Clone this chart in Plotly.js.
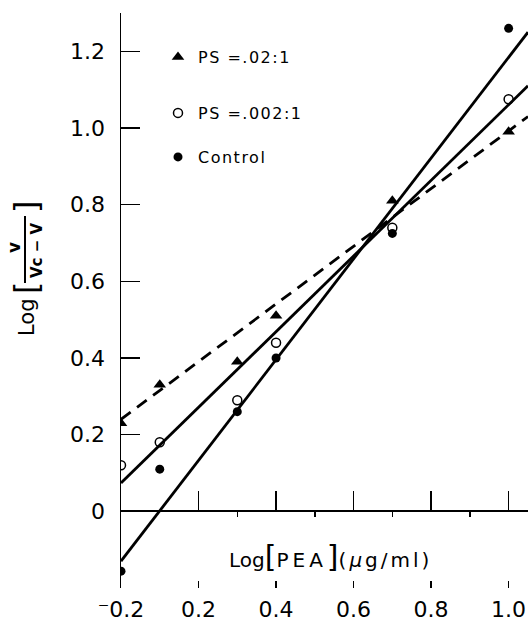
<!DOCTYPE html>
<html><head><meta charset="utf-8">
<script src="https://cdn.plot.ly/plotly-3.0.1.min.js"></script>
<style>html,body{margin:0;padding:0;background:#fff}</style>
</head><body><div id="chart" style="width:528px;height:623px"></div>
<script>
// Plotted x positions (the leftmost point is drawn at the axis origin, labelled ⁻0.2)
const logPEA = [0, 0.1, 0.3, 0.4, 0.7, 1.0];
const psHigh = [0.23, 0.33, 0.39, 0.51, 0.81, 0.99];     // PS = .02:1
const psLow = [0.12, 0.18, 0.29, 0.44, 0.74, 1.075];      // PS = .002:1
const control = [-0.156, 0.11, 0.26, 0.40, 0.725, 1.26];  // Control
const fitX = [0, 1.05];
const psHighFit = [0.24, 1.03];
const psLowFit = [0.074, 1.11];
const controlFit = [-0.13, 1.25];
const xTickVals = [0, 0.2, 0.4, 0.6, 0.8, 1.0];
const xTickText = ['\u207B0.2', '0.2', '0.4', '0.6', '0.8', '1.0'];
const xMajor = [0.2, 0.4, 0.6, 0.8, 1.0];
const xMinor = [0.3, 0.5, 0.7, 0.9];
const yTickVals = [0, 0.2, 0.4, 0.6, 0.8, 1.0, 1.2];
const yTickText = ['0', '0.2', '0.4', '0.6', '0.8', '1.0', '1.2'];
const seriesNames = ['PS =.02:1', 'PS =.002:1', 'Control'];

const FONT = 'DejaVu Sans, sans-serif';
const L = 121, T = 13, W = 407, H = 575;
const px2x = p => (p - L) / W;
const py2y = p => 1 - (p - T) / H;
const spaced = s => '<span style="letter-spacing:1.5px">' + s + '</span>';

const traces = [
  {x: fitX, y: psHighFit, xaxis: 'x2', mode: 'lines', line: {color: '#000', width: 2.8, dash: '12px,8px'}, showlegend: false, hoverinfo: 'skip'},
  {x: fitX, y: psLowFit, xaxis: 'x2', mode: 'lines', line: {color: '#000', width: 2.8}, showlegend: false, hoverinfo: 'skip'},
  {x: fitX, y: controlFit, xaxis: 'x2', mode: 'lines', line: {color: '#000', width: 2.8}, showlegend: false, hoverinfo: 'skip'},
  {x: logPEA, y: psHigh, mode: 'markers', name: spaced(seriesNames[0]), legend: 'legend',
   marker: {symbol: 'triangle-up', size: 11, color: '#000'}},
  {x: logPEA, y: psLow, mode: 'markers', name: spaced(seriesNames[1]), legend: 'legend2',
   marker: {symbol: 'circle', size: 9, color: '#fff', line: {color: '#000', width: 1.5}}},
  {x: logPEA, y: control, mode: 'markers', name: spaced(seriesNames[2]), legend: 'legend3',
   marker: {symbol: 'circle', size: 9, color: '#000'}}
];

const legendBase = {xanchor: 'left', yanchor: 'middle', bgcolor: 'rgba(0,0,0,0)',
  font: {family: FONT, size: 16, color: '#000'}, itemsizing: 'trace'};

const layout = {
  width: 528, height: 623,
  margin: {l: L, r: 0, t: T, b: 623 - T - H},
  paper_bgcolor: '#fff', plot_bgcolor: '#fff',
  showlegend: true,
  legend: Object.assign({x: px2x(158), y: py2y(57)}, legendBase),
  legend2: Object.assign({x: px2x(158), y: py2y(113)}, legendBase),
  legend3: Object.assign({x: px2x(158), y: py2y(157)}, legendBase),
  xaxis: {
    range: [0, 1.05], tickmode: 'array', tickvals: xTickVals, ticktext: xTickText,
    ticks: 'inside', ticklen: 7, tickwidth: 1.5, tickcolor: '#000',
    showline: false, showgrid: false, zeroline: false,
    tickfont: {family: FONT, size: 22, color: '#000'}, ticklabelstandoff: 6
  },
  xaxis2: {
    range: [0, 1.05], overlaying: 'x', anchor: 'free', position: 0.2 / 1.5, side: 'bottom',
    showline: true, linewidth: 2, linecolor: '#000',
    tickmode: 'array', tickvals: xMajor, ticks: 'inside', ticklen: 19, tickwidth: 1.5, tickcolor: '#000',
    showticklabels: false, showgrid: false, zeroline: false,
    minor: {tickmode: 'array', tickvals: xMinor, ticks: 'outside', ticklen: 5, tickwidth: 1.5, tickcolor: '#000', showgrid: false}
  },
  yaxis: {
    range: [-0.2, 1.3], tickmode: 'array', tickvals: yTickVals, ticktext: yTickText,
    ticks: 'inside', ticklen: 19, tickwidth: 1.5, tickcolor: '#000',
    showline: true, linewidth: 1.5, linecolor: '#000', showgrid: false, zeroline: false,
    tickfont: {family: FONT, size: 22, color: '#000'}, ticklabelstandoff: 10
  },
  shapes: [
    {type: 'line', xref: 'paper', yref: 'paper', x0: px2x(25), x1: px2x(25), y0: py2y(216), y1: py2y(283), line: {color: '#000', width: 2}}
  ],
  annotations: [
    {xref: 'paper', yref: 'paper', x: px2x(330), y: py2y(556), xanchor: 'center', yanchor: 'middle', showarrow: false,
     text: 'Log<span style="font-size:30px">[</span><span style="letter-spacing:4px">PEA</span><span style="font-size:30px">]</span><span style="letter-spacing:3px">(<i>μ</i>g/ml)</span>',
     font: {family: FONT, size: 20, color: '#000'}},
    {xref: 'paper', yref: 'paper', x: px2x(27), y: py2y(317), xanchor: 'center', yanchor: 'middle', showarrow: false,
     textangle: -90, text: 'Log', font: {family: FONT, size: 21, color: '#000'}},
    {xref: 'paper', yref: 'paper', x: px2x(26), y: py2y(288), xanchor: 'center', yanchor: 'middle', showarrow: false,
     textangle: -90, text: '[', font: {family: FONT, size: 32, color: '#000'}},
    {xref: 'paper', yref: 'paper', x: px2x(26), y: py2y(207), xanchor: 'center', yanchor: 'middle', showarrow: false,
     textangle: -90, text: ']', font: {family: FONT, size: 32, color: '#000'}},
    {xref: 'paper', yref: 'paper', x: px2x(14), y: py2y(248), xanchor: 'center', yanchor: 'middle', showarrow: false,
     textangle: -90, text: '<b>v</b>', font: {family: FONT, size: 17, color: '#000'}},
    {xref: 'paper', yref: 'paper', x: px2x(37), y: py2y(250), xanchor: 'center', yanchor: 'middle', showarrow: false,
     textangle: -90, text: '<b>Vc − V</b>', font: {family: FONT, size: 15, color: '#000'}}
  ]
};

Plotly.newPlot('chart', traces, layout, {displayModeBar: false, staticPlot: true});
</script></body></html>
